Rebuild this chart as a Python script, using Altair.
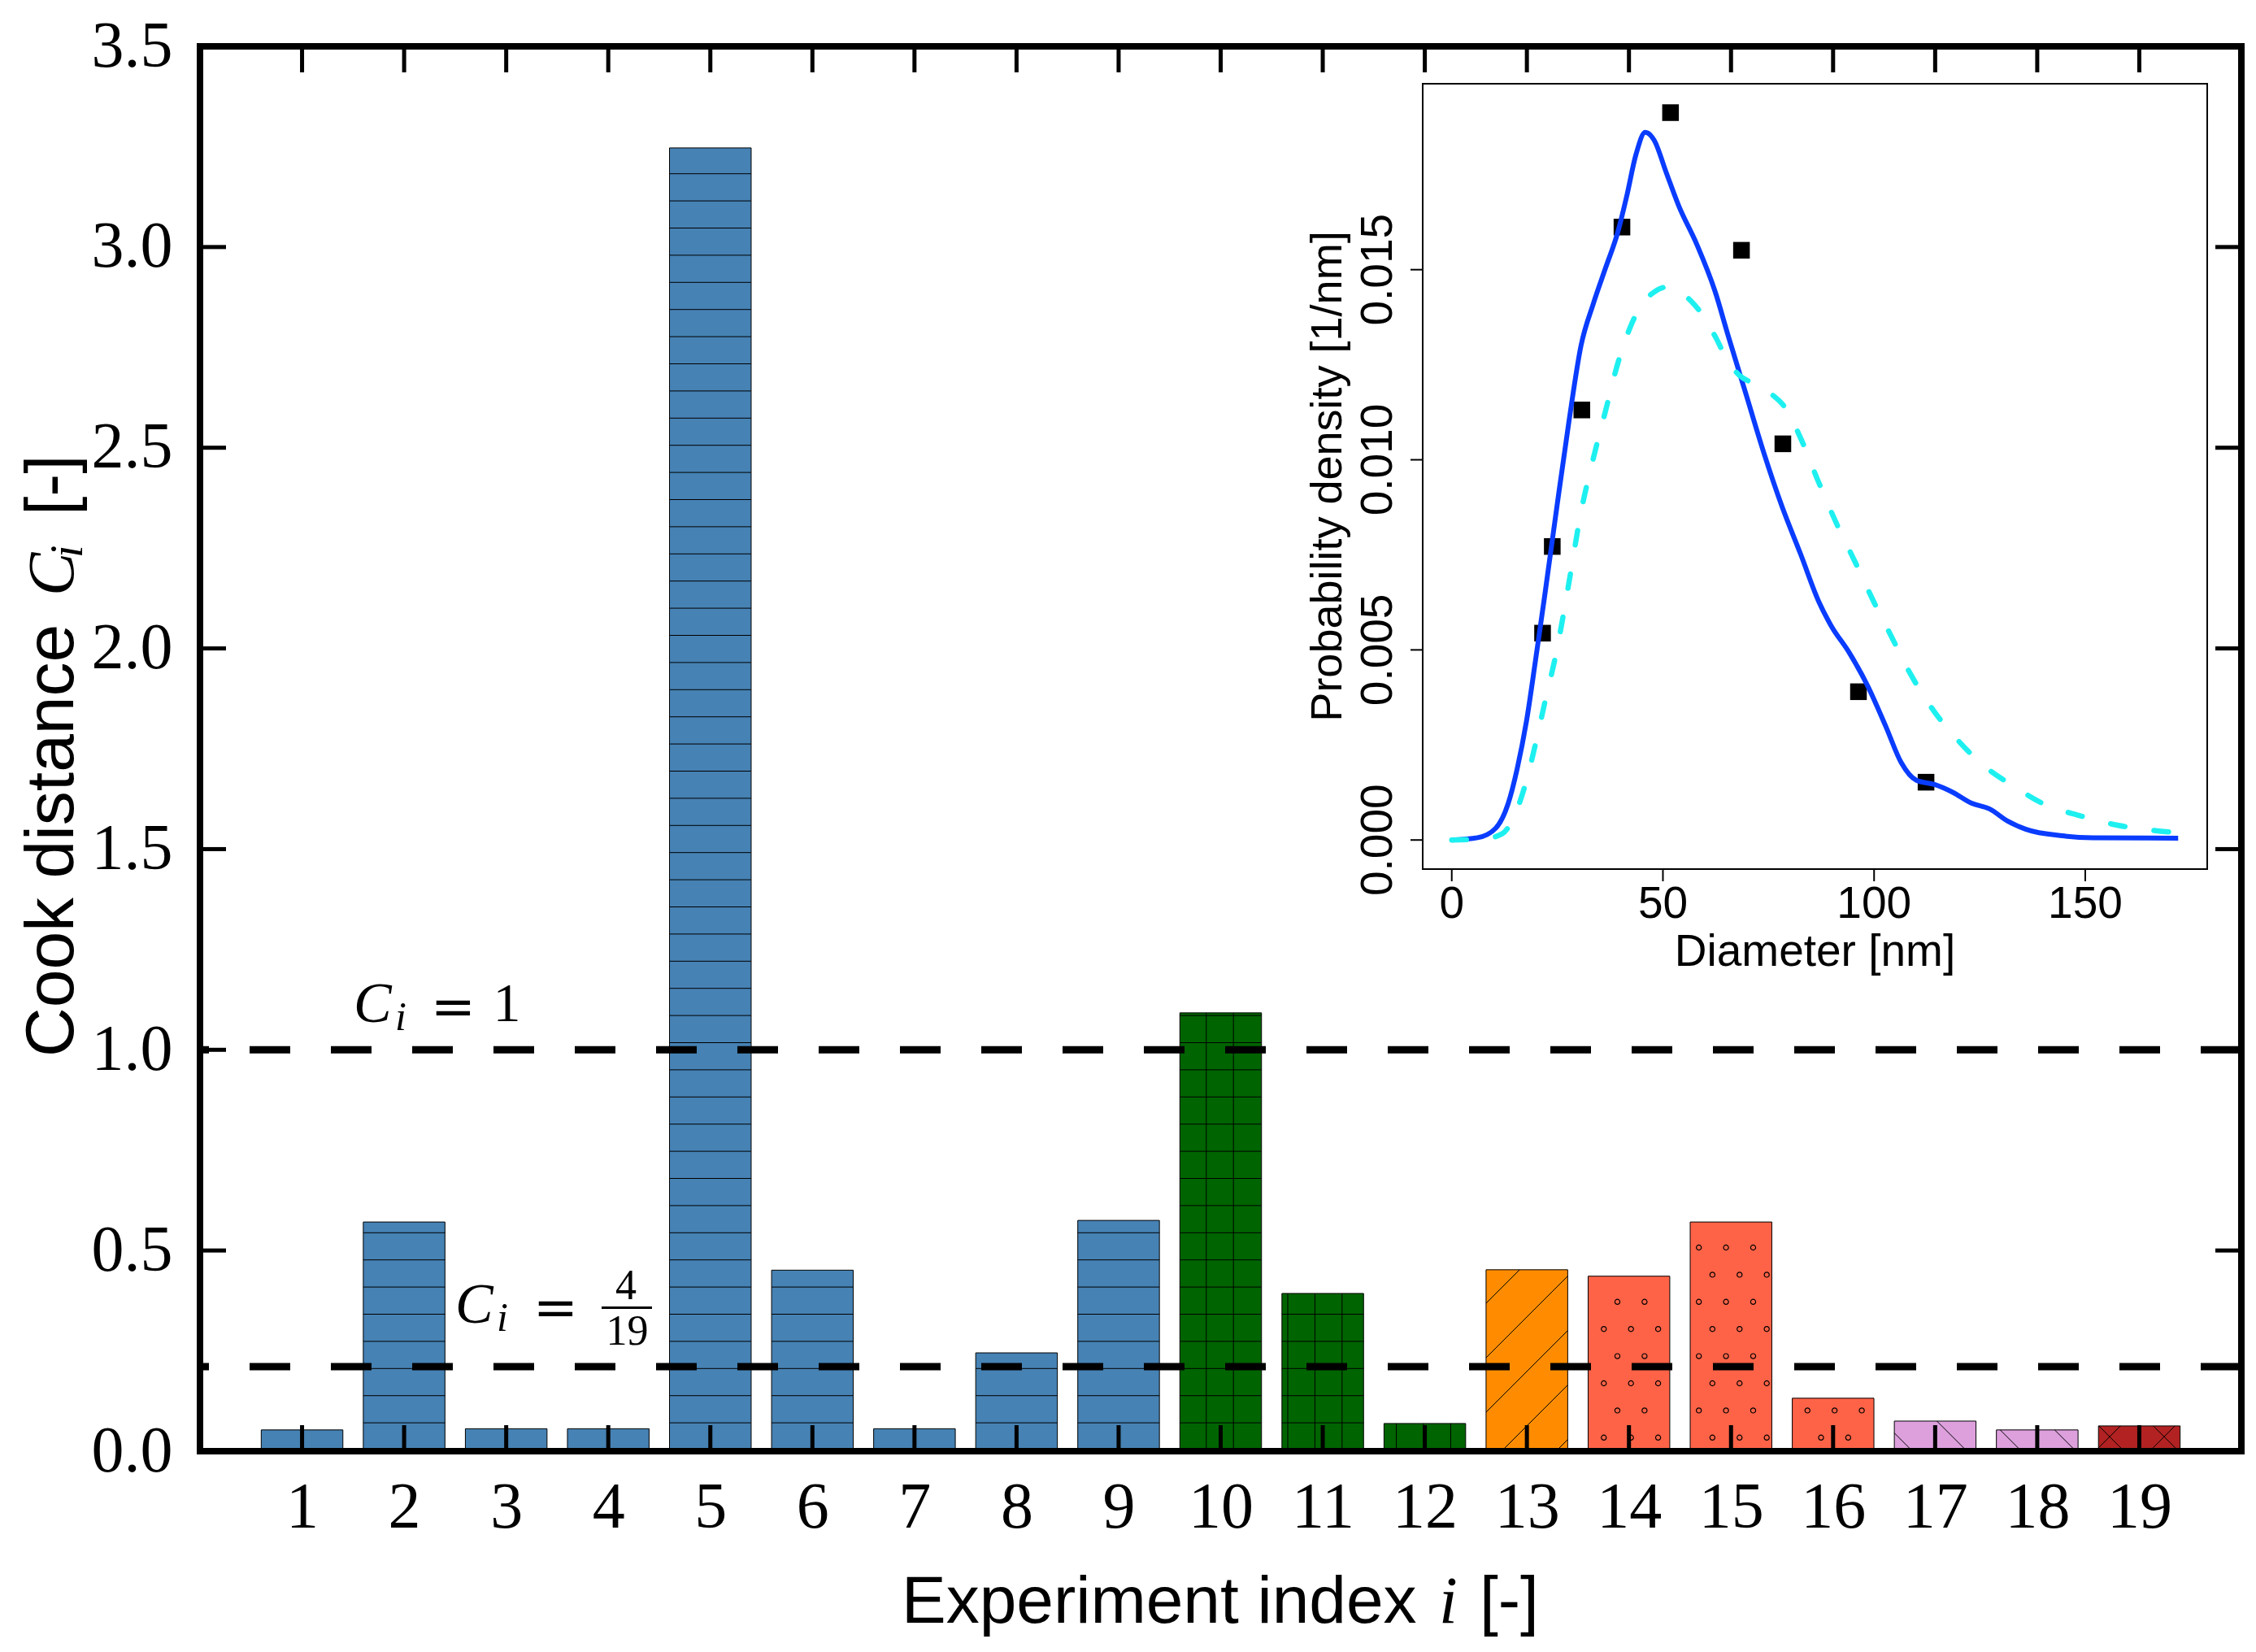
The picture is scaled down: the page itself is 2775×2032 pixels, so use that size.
import altair as alt
import pandas as pd

# ---------------- data ----------------
experiments = list(range(1, 20))
cook_distance = [0.053, 0.571, 0.056, 0.056, 3.247, 0.451, 0.056, 0.245, 0.575,
                 1.092, 0.393, 0.069, 0.452, 0.436, 0.571, 0.132, 0.075, 0.053, 0.063]
bar_colors = (["#4682B4"] * 9 + ["#006400"] * 3 + ["#FF8C00"] + ["#FF6347"] * 3
              + ["#DDA0DD"] * 2 + ["#B22222"])
bar_hatches = ["-"] * 9 + ["+"] * 3 + ["/"] + ["o"] * 3 + ["\\"] * 2 + ["x"]
threshold_values = [1.0, 4 / 19]
x_tick_values = list(range(1, 20))
y_tick_values = [0.0, 0.5, 1.0, 1.5, 2.0, 2.5, 3.0, 3.5]

# inset: measured size distribution and two density curves
point_diameter = [21.5, 23.8, 30.8, 40.3, 51.8, 68.6, 78.4, 96.3, 112.3]
point_density = [0.00544, 0.00772, 0.01131, 0.01612, 0.01913, 0.01551, 0.01042, 0.00390, 0.00152]

fit_diameter = [0, 6.1, 10.4, 13.3, 15.5, 17.7, 19.8, 22.0, 24.9, 27.7, 30.6, 33.5, 36.4, 39.3,
                41.4, 43.6, 45.8, 47.9, 50.8, 53.7, 58.0, 62.4, 65.3, 69.6, 73.9, 78.2, 82.6,
                86.9, 89.8, 94.1, 98.4, 102.8, 106.4, 110.0, 114.3, 118.7, 123.0, 127.3, 131.6,
                136.0, 144.6, 151.8, 172.0]
fit_density = [0.0, 0.00006, 0.00031, 0.00094, 0.00188, 0.00313, 0.0047, 0.00642, 0.00877,
               0.01097, 0.0130, 0.0141, 0.01504, 0.01598, 0.01692, 0.01802, 0.01861, 0.01841,
               0.01755, 0.01669, 0.01567, 0.01441, 0.01332, 0.01175, 0.01018, 0.00877, 0.00752,
               0.00627, 0.00564, 0.00493, 0.00407, 0.00298, 0.00204, 0.00157, 0.00146, 0.00125,
               0.00097, 0.00082, 0.0005, 0.00028, 0.00011, 0.00006, 0.00005]

ref_diameter = [0, 7.5, 11.9, 14.8, 17.7, 19.8, 22.0, 24.9, 27.7, 30.6, 33.5, 36.4, 39.3, 42.2,
                45.1, 47.9, 50.8, 53.7, 56.6, 59.5, 62.4, 65.3, 68.1, 71.8, 75.4, 79.0, 82.6,
                86.9, 91.2, 95.6, 99.9, 104.2, 108.5, 114.3, 120.1, 125.9, 133.1, 140.3, 149.0,
                157.6, 166.3, 172.0]
ref_density = [0.0, 0.00003, 0.00016, 0.00063, 0.00157, 0.00251, 0.0036, 0.00501, 0.00674,
               0.00862, 0.01003, 0.01128, 0.01253, 0.01347, 0.0141, 0.01441, 0.01454, 0.01445,
               0.01418, 0.01379, 0.01324, 0.01261, 0.01222, 0.01199, 0.01175, 0.01136, 0.01057,
               0.0094, 0.0083, 0.00729, 0.00627, 0.00533, 0.00439, 0.00337, 0.00259, 0.00196,
               0.00141, 0.00094, 0.00063, 0.00039, 0.00025, 0.00019]

inset_x_ticks = [0, 50, 100, 150]
inset_x_labels = ["0", "50", "100", "150"]
inset_y_ticks = [0.0, 0.005, 0.010, 0.015]
inset_y_labels = ["0.000", "0.005", "0.010", "0.015"]

# ---------------- layout ----------------
W, H = 2511, 1728
X_DOM = [0, 20]
Y_DOM = [0, 3.5]
PXX = W / (X_DOM[1] - X_DOM[0])
PXY = H / (Y_DOM[1] - Y_DOM[0])

SERIF = "Liberation Serif"
SANS = "Liberation Sans"

xs = alt.Scale(domain=X_DOM, nice=False, zero=False)
ys = alt.Scale(domain=Y_DOM, nice=False, zero=False)

bars_df = pd.DataFrame({"i": experiments, "c": cook_distance, "color": bar_colors})
bars_df["x0"] = bars_df["i"] - 0.4
bars_df["x1"] = bars_df["i"] + 0.4
bars_df["base"] = 0.0

bars = alt.Chart(bars_df).mark_rect(stroke="black", strokeWidth=1).encode(
    x=alt.X("x0:Q", scale=xs, axis=alt.Axis(
        values=x_tick_values, format="d", title=None, ticks=False, tickSize=0, domain=False,
        grid=False, labelFont=SERIF, labelFontSize=80, labelColor="black", labelPadding=30,
        labelFlush=False, labelOverlap=False)),
    x2="x1:Q",
    y=alt.Y("c:Q", scale=ys, axis=alt.Axis(
        values=y_tick_values, format=".1f", title=None, ticks=False, tickSize=0,
        domain=False, grid=False, labelFont=SERIF, labelFontSize=80, labelColor="black",
        labelPadding=34, labelFlush=False, labelOverlap=False)),
    y2="base:Q",
    color=alt.Color("color:N", scale=None),
)

# ---- hatch patterns (pixel-space spacing, like matplotlib) ----
HS = 33.4   # line / dot spacing in px
DS = 67.0   # diagonal spacing in px
segs, dots = [], []


def add_seg(xa, ya, xb, yb):
    segs.append({"x": xa / PXX, "y": ya / PXY, "x2": xb / PXX, "y2": yb / PXY})


for i, v, h in zip(experiments, cook_distance, bar_hatches):
    X0, X1, T = (i - 0.4) * PXX, (i + 0.4) * PXX, v * PXY
    if h in "-+":
        k = 1
        while k * HS + 1.5 < T - 1:
            add_seg(X0, k * HS + 1.5, X1, k * HS + 1.5)
            k += 1
    if h == "+":
        for k in range(int(X0 // HS) - 1, int(X1 // HS) + 2):
            X = k * HS + 2
            if X0 + 2 < X < X1 - 2:
                add_seg(X, 0, X, T)
    if h in "/x":
        c0 = 7.0 if h == "/" else 13.8
        for k in range(-50, 50):
            c = c0 + DS * k
            xa, xb = max(X0, -c), min(X1, T - c)
            if xb - xa > 0.5:
                add_seg(xa, xa + c, xb, xb + c)
    if h in "\\x":
        c0 = 29.5 if h == "\\" else 21.8
        for k in range(-50, 60):
            c = c0 + DS * k
            xa, xb = max(X0, c - T), min(X1, c)
            if xb - xa > 0.5:
                add_seg(xa, c - xa, xb, c - xb)
    if h == "o":
        r = 0
        while (r + 0.5) * HS < T - 3:
            Y = (r + 0.5) * HS
            off = 0.7 if r % 2 == 0 else 0.2
            for k in range(int(X0 // HS) - 1, int(X1 // HS) + 2):
                X = (k + off) * HS
                if X0 + 3 < X < X1 - 3:
                    dots.append({"x": X / PXX, "y": Y / PXY})
            r += 1

hatch_lines = alt.Chart(pd.DataFrame(segs)).mark_rule(color="black", strokeWidth=1).encode(
    x=alt.X("x:Q", scale=xs), x2="x2:Q", y=alt.Y("y:Q", scale=ys), y2="y2:Q")
hatch_dots = alt.Chart(pd.DataFrame(dots)).mark_point(
    shape="circle", filled=False, stroke="black", strokeWidth=1.2, size=38, opacity=1).encode(
    x=alt.X("x:Q", scale=xs), y=alt.Y("y:Q", scale=ys))

thresholds = alt.Chart(pd.DataFrame({"t": threshold_values})).mark_rule(
    color="black", strokeWidth=9, strokeDash=[50, 50]).encode(y=alt.Y("t:Q", scale=ys))

# ---- frame (four spines) and inward ticks on all four sides ----
frame_df = pd.DataFrame({"x0": [X_DOM[0]], "x1": [X_DOM[1]], "y0": [Y_DOM[0]], "y1": [Y_DOM[1]]})
main_frame = alt.Chart(frame_df).mark_rect(fill="transparent", stroke="black", strokeWidth=8).encode(
    x=alt.X("x0:Q", scale=xs), x2="x1:Q", y=alt.Y("y0:Q", scale=ys), y2="y1:Q")

TL = 32
tick_rows = []
for v in x_tick_values:
    tick_rows.append({"x": v, "x2": v, "y": 0.0, "y2": TL / PXY})
    tick_rows.append({"x": v, "x2": v, "y": Y_DOM[1], "y2": Y_DOM[1] - TL / PXY})
for v in y_tick_values[1:-1]:
    tick_rows.append({"x": 0.0, "x2": TL / PXX, "y": v, "y2": v})
    tick_rows.append({"x": X_DOM[1], "x2": X_DOM[1] - TL / PXX, "y": v, "y2": v})
frame_ticks = alt.Chart(pd.DataFrame(tick_rows)).mark_rule(color="black", strokeWidth=5).encode(
    x=alt.X("x:Q", scale=xs), x2="x2:Q", y=alt.Y("y:Q", scale=ys), y2="y2:Q")

dummy = pd.DataFrame({"d": [0]})


def txt(text, x, y, font, size, style="normal", angle=0, align="left", baseline="alphabetic"):
    return alt.Chart(dummy).mark_text(
        text=text, font=font, fontSize=size, fontStyle=style, angle=angle, align=align,
        baseline=baseline, color="black").encode(x=alt.value(x), y=alt.value(y))


YT = -156  # baseline of the rotated y-axis title, relative to the plot's left edge
texts = [
    # annotation C_i = 1
    txt("C", 189, 1200, SERIF, 70, "italic"),
    txt("i", 240, 1210, SERIF, 50, "italic"),
    txt("=", 311.5, 1183, "DejaVu Serif", 66, align="center", baseline="middle"),
    txt("1", 377.5, 1199, SERIF, 68, align="center"),
    # annotation C_i = 4/19
    txt("C", 314, 1570, SERIF, 70, "italic"),
    txt("i", 365, 1580, SERIF, 50, "italic"),
    txt("=", 437.5, 1552.5, "DejaVu Serif", 66, align="center", baseline="middle"),
    txt("4", 524, 1541, SERIF, 52, align="center"),
    txt("19", 525.5, 1597, SERIF, 52, align="center"),
    # y-axis title
    txt("Cook distance", YT, 1243, SANS, 84, angle=270),
    txt("C", YT, 676, SERIF, 80, "italic", angle=270),
    txt("i", YT + 11, 629, SERIF, 56, "italic", angle=270),
    txt("[-]", YT, 577, SANS, 84, angle=270),
    # x-axis title
    txt("Experiment index", 863, 1939, SANS, 82),
    txt("i", 1524, 1939, SERIF, 82, "italic"),
    txt("[-]", 1574, 1939, SANS, 82),
]
frac_bar = alt.Chart(dummy).mark_rule(color="black", strokeWidth=3).encode(
    x=alt.value(494), x2=alt.value(556), y=alt.value(1551.5))

main = alt.layer(bars, hatch_lines, hatch_dots, thresholds, main_frame, frame_ticks,
                 frac_bar, *texts)

# ---------------- inset ----------------
IX_DOM = [-6.88, 178.88]
IY_DOM = [-0.000765, 0.01989]
IX_RANGE = [1504, 2469]
IY_RANGE = [1012, 46]
IPXX = (IX_RANGE[1] - IX_RANGE[0]) / (IX_DOM[1] - IX_DOM[0])
IPXY = (IY_RANGE[0] - IY_RANGE[1]) / (IY_DOM[1] - IY_DOM[0])
ix = alt.Scale(domain=IX_DOM, range=IX_RANGE, nice=False, zero=False)
iy = alt.Scale(domain=IY_DOM, range=IY_RANGE, nice=False, zero=False)


def IX(f):
    return alt.X(f, scale=ix, axis=None)


def IY(f):
    return alt.Y(f, scale=iy, axis=None)


iframe_df = pd.DataFrame({"x0": [IX_DOM[0]], "x1": [IX_DOM[1]], "y0": [IY_DOM[0]], "y1": [IY_DOM[1]]})
inset_frame = alt.Chart(iframe_df).mark_rect(fill="white", stroke="black", strokeWidth=2).encode(
    x=IX("x0:Q"), x2="x1:Q", y=IY("y0:Q"), y2="y1:Q")

ITL = 15
itick_rows = [{"x": v, "x2": v, "y": IY_DOM[0], "y2": IY_DOM[0] - ITL / IPXY} for v in inset_x_ticks]
itick_rows += [{"x": IX_DOM[0], "x2": IX_DOM[0] - ITL / IPXX, "y": v, "y2": v} for v in inset_y_ticks]
inset_ticks = alt.Chart(pd.DataFrame(itick_rows)).mark_rule(color="black", strokeWidth=2).encode(
    x=IX("x:Q"), x2="x2:Q", y=IY("y:Q"), y2="y2:Q")

ixl_df = pd.DataFrame({"x": inset_x_ticks, "lab": inset_x_labels,
                       "y": [IY_DOM[0] - 17 / IPXY] * len(inset_x_ticks)})
inset_xlabels = alt.Chart(ixl_df).mark_text(
    font=SANS, fontSize=55, baseline="top", align="center", color="black").encode(
    x=IX("x:Q"), y=IY("y:Q"), text="lab:N")
iyl_df = pd.DataFrame({"y": inset_y_ticks, "lab": inset_y_labels,
                       "x": [IX_DOM[0] - 38 / IPXX] * len(inset_y_ticks)})
inset_ylabels = alt.Chart(iyl_df).mark_text(
    font=SANS, fontSize=55, baseline="alphabetic", align="center", angle=270, color="black").encode(
    x=IX("x:Q"), y=IY("y:Q"), text="lab:N")

ititle_df = pd.DataFrame({
    "x": [(IX_DOM[0] + IX_DOM[1]) / 2, IX_DOM[0] - 100 / IPXX],
    "y": [IY_DOM[0] - 119 / IPXY, (IY_DOM[0] + IY_DOM[1]) / 2],
    "lab": ["Diameter [nm]", "Probability density [1/nm]"],
})
inset_xtitle = alt.Chart(ititle_df.iloc[[0]]).mark_text(
    font=SANS, fontSize=55, baseline="alphabetic", align="center", color="black").encode(
    x=IX("x:Q"), y=IY("y:Q"), text="lab:N")
inset_ytitle = alt.Chart(ititle_df.iloc[[1]]).mark_text(
    font=SANS, fontSize=54, baseline="alphabetic", align="center", angle=270, color="black").encode(
    x=IX("x:Q"), y=IY("y:Q"), text="lab:N")

squares = alt.Chart(pd.DataFrame({"d": point_diameter, "p": point_density})).mark_point(
    shape="square", filled=True, color="black", size=420, opacity=1).encode(
    x=IX("d:Q"), y=IY("p:Q"))
fit_line = alt.Chart(pd.DataFrame({"d": fit_diameter, "p": fit_density})).mark_line(
    color="#0A3CFF", strokeWidth=6, interpolate="monotone").encode(x=IX("d:Q"), y=IY("p:Q"))
ref_line = alt.Chart(pd.DataFrame({"d": ref_diameter, "p": ref_density})).mark_line(
    color="#1EF0F0", strokeWidth=6.5, strokeDash=[18, 36], strokeCap="round",
    interpolate="monotone").encode(x=IX("d:Q"), y=IY("p:Q"))

inset = alt.layer(inset_frame, inset_ticks, inset_xlabels, inset_ylabels, inset_xtitle,
                  inset_ytitle, squares, fit_line, ref_line)

chart = alt.layer(main, inset).resolve_scale(x="independent", y="independent").properties(
    width=W, height=H,
    autosize=alt.AutoSizeParams(type="none"),
    padding={"left": 238, "top": 49, "right": 8, "bottom": 232},
    background="white",
).configure_view(stroke="transparent", strokeWidth=0)

chart.save("out.html", embed_options={"renderer": "svg", "actions": False})
